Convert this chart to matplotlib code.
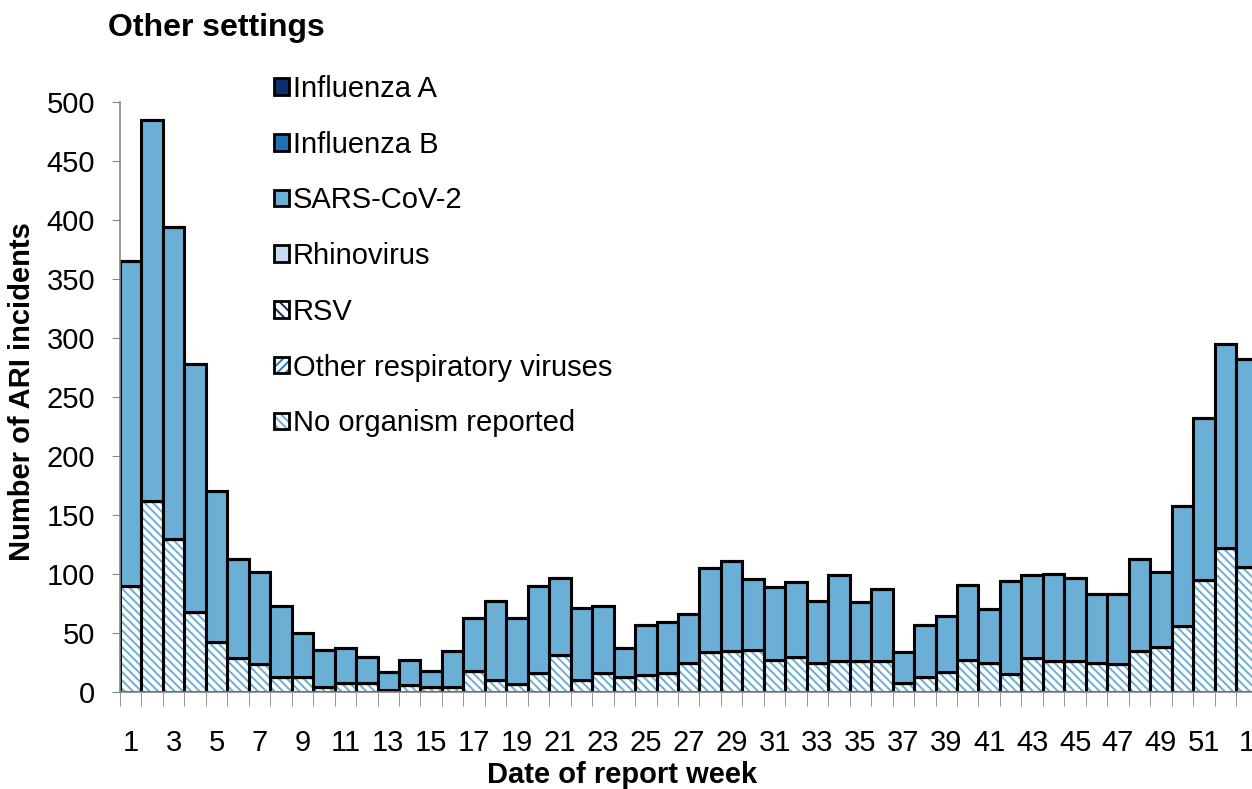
import matplotlib
matplotlib.use('Agg')
import matplotlib.pyplot as plt
import matplotlib.patches as mpatches
from matplotlib.colors import to_rgba
import numpy as np

plt.rcParams['font.family'] = ['Liberation Sans', 'DejaVu Sans']
plt.rcParams['hatch.linewidth'] = 1.4

# report weeks: 1..52, then week 1 of the next year
week_labels = [str(w) for w in range(1, 53)] + ['1']

no_organism = [90, 162, 130, 68, 42, 29, 24, 13, 13, 4, 8, 8, 2, 6, 4, 4, 18, 10, 7, 16,
               31, 10, 16, 13, 14, 16, 25, 34, 35, 36, 27, 30, 25, 26, 26, 26, 8, 13, 17, 27,
               25, 15, 29, 26, 26, 25, 24, 35, 38, 56, 95, 122, 106]
sars_cov_2 = [275, 323, 264, 210, 128, 84, 78, 60, 37, 32, 29, 22, 15, 21, 14, 31, 45, 67, 56, 74,
              66, 61, 57, 24, 43, 43, 41, 71, 76, 60, 62, 63, 52, 73, 50, 61, 26, 44, 47, 64,
              45, 79, 70, 74, 71, 58, 59, 78, 64, 102, 137, 173, 176]
other_resp = [0] * 53
rsv = [0] * 53
rhinovirus = [0] * 53
influenza_b = [0] * 53
influenza_a = [0] * 53

# bottom -> top stacking order (name, values, colour, hatch)
series = [
    ('No organism reported', no_organism, '#6BAED6', '\\\\\\\\'),
    ('Other respiratory viruses', other_resp, '#2B7BBA', '////'),
    ('RSV', rsv, '#0B2F6B', '\\\\\\'),
    ('Rhinovirus', rhinovirus, '#C6DBEF', None),
    ('SARS-CoV-2', sars_cov_2, '#6BAED6', None),
    ('Influenza B', influenza_b, '#2171B5', None),
    ('Influenza A', influenza_a, '#08306B', None),
]

W, H = 1252, 789
fig = plt.figure(figsize=(W / 100, H / 100), dpi=100)
ax = fig.add_axes([120 / W, 97 / H, 1137.5 / W, 590 / H])

x = np.arange(1, len(week_labels) + 1)
bottom = np.zeros(len(x))
handles = []
for name, vals, col, hatch in series:
    vals = np.array(vals, dtype=float)
    if hatch:
        # hatch colour follows edgecolor, so draw fill and outline separately
        ax.bar(x, vals, 1.0, bottom=bottom, color='white', edgecolor=col,
               hatch=hatch, linewidth=0)
        ax.bar(x, vals, 1.0, bottom=bottom, facecolor='none', edgecolor='black',
               linewidth=2.2)
        h = mpatches.Patch(facecolor='white', edgecolor='black', hatch=hatch, linewidth=2)
        h._hatch_color = to_rgba(col)
    else:
        ax.bar(x, vals, 1.0, bottom=bottom, color=col, edgecolor='black', linewidth=2.2)
        h = mpatches.Patch(facecolor=col, edgecolor='black', linewidth=2)
    handles.append((h, name))
    bottom = bottom + vals

ax.set_xlim(0.5, len(x) + 0.5)
ax.set_ylim(0, 500)
ax.set_yticks(np.arange(0, 501, 50))
ax.tick_params(axis='y', labelsize=21, length=6, color='#868686', pad=12)

ax.set_xticks(x[::2])
ax.set_xticklabels(week_labels[::2])
ax.set_xticks(np.arange(0.5, len(x) + 1, 1), minor=True)
ax.tick_params(axis='x', which='major', labelsize=21, length=0, pad=26.5)
ax.tick_params(axis='x', which='minor', length=10, color='#868686')

for s in ['top', 'right']:
    ax.spines[s].set_visible(False)
for s in ['left', 'bottom']:
    ax.spines[s].set_color('#868686')
    ax.spines[s].set_linewidth(1.2)

handles = handles[::-1]
ax.legend([h for h, _ in handles], [n for _, n in handles],
          loc='upper left', bbox_to_anchor=(274 / W, 1 - 75 / H),
          bbox_transform=fig.transFigure, frameon=False, fontsize=21,
          handlelength=0.5, handleheight=0.5, handletextpad=0.15,
          labelspacing=0.95, borderpad=0, borderaxespad=0)

fig.text(108 / W, 1 - 28 / H, 'Other settings', fontsize=23, fontweight='bold',
         ha='left', va='center')
fig.text(622 / W, 1 - 775 / H, 'Date of report week', fontsize=21, fontweight='bold',
         ha='center', va='center')
fig.text(22 / W, 397 / H, 'Number of ARI incidents', fontsize=21, fontweight='bold',
         ha='center', va='center', rotation=90)

fig.savefig('out.png', dpi=100)
